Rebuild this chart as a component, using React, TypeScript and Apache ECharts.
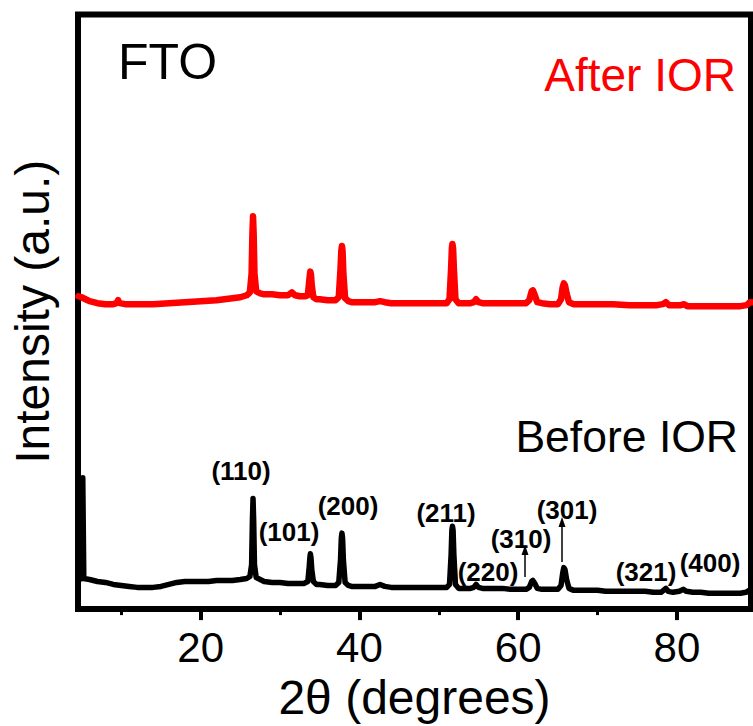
import React, { useEffect, useRef } from "react";
import * as echarts from "echarts";

// 2θ (degrees), intensity (arbitrary units, offset traces)
const beforeIOR: [number, number][] = [
  [4.6, 30], [5.05, 31], [5.15, 133], [5.28, 31], [6, 30], [7, 28], [8, 27], [9, 25], [10, 24], [11, 23], [12, 22], [13, 22],
  [14, 22], [15, 23], [16, 25], [17, 27], [18, 28], [19, 28], [20, 28], [21, 28], [22, 29], [23, 29],
  [24, 29], [25, 30], [25.8, 31], [26.2, 33], [26.42, 45], [26.52, 90], [26.6, 112], [26.68, 90],
  [26.78, 45], [27.0, 32], [27.5, 30], [28, 28], [29, 27], [30, 27], [31, 26], [32, 26], [33, 26],
  [33.5, 28], [33.65, 40], [33.76, 52], [33.82, 56], [33.9, 52], [34.0, 40], [34.2, 28], [34.6, 25],
  [35, 25], [36, 24], [37, 24], [37.4, 27], [37.62, 50], [37.72, 72], [37.8, 77], [37.88, 72],
  [37.98, 50], [38.2, 27], [38.6, 24], [39, 23], [40, 23], [41, 23], [42, 23], [42.6, 25], [43.2, 23],
  [44, 22], [45, 22], [46, 22], [47, 22], [48, 22], [49, 22], [50, 22], [51, 22], [51.35, 25],
  [51.55, 55], [51.65, 80], [51.72, 84], [51.8, 80], [51.9, 55], [52.1, 25], [52.5, 21], [53, 21],
  [54, 21], [54.4, 22], [54.7, 25], [55.0, 22], [55.5, 21], [56, 21], [57, 21], [58, 21], [59, 20],
  [60, 20], [61, 20], [61.4, 22], [61.7, 28], [61.85, 29], [62.1, 26], [62.4, 21], [63, 20], [64, 20],
  [65, 20], [65.4, 24], [65.6, 36], [65.75, 42], [65.9, 40], [66.1, 30], [66.4, 21], [67, 19], [68, 19],
  [69, 19], [70, 19], [71, 18], [72, 18], [73, 18], [74, 18], [75, 18], [76, 18], [77, 17], [78, 17],
  [78.3, 19], [78.6, 21], [78.9, 18], [79.5, 17], [80.3, 18], [80.8, 20], [81.2, 18], [82, 17], [83, 17],
  [84, 16], [85, 16], [86, 16], [87, 16], [88, 16], [88.7, 17], [89.1, 19], [89.4, 19],
];

const afterIOR: [number, number][] = [
  [4.6, 317], [5.0, 316], [5.5, 314], [6, 312], [7, 310], [8, 309], [9, 309], [9.4, 310], [9.6, 313], [9.8, 310],
  [10.5, 309], [12, 309], [14, 309], [16, 310], [18, 311], [20, 312], [22, 313], [24, 315], [25, 316],
  [25.8, 318], [26.2, 321], [26.42, 340], [26.52, 380], [26.6, 398], [26.68, 380], [26.78, 340],
  [27.0, 322], [27.5, 320], [28, 319], [29, 319], [30, 318], [31, 318], [31.5, 321], [31.9, 318],
  [32.5, 317], [33.2, 317], [33.5, 318], [33.65, 330], [33.76, 339], [33.82, 342], [33.9, 339],
  [34.0, 328], [34.2, 316], [34.6, 314], [35, 314], [36, 313], [37, 313], [37.4, 316], [37.62, 345],
  [37.72, 363], [37.8, 368], [37.88, 363], [37.98, 340], [38.2, 315], [38.6, 312], [39, 311], [40, 311],
  [41, 311], [42, 311], [42.6, 312], [43.2, 311], [44, 310], [46, 310], [48, 310], [50, 310], [51, 310],
  [51.35, 314], [51.55, 345], [51.65, 366], [51.72, 370], [51.8, 366], [51.9, 345], [52.1, 314],
  [52.5, 310], [53, 310], [54, 310], [54.4, 311], [54.7, 314], [55.0, 311], [55.5, 310], [57, 310],
  [59, 310], [61, 310], [61.4, 313], [61.7, 322], [61.85, 323], [62.1, 318], [62.4, 311], [63, 310],
  [64, 309], [65, 309], [65.4, 314], [65.6, 326], [65.75, 330], [65.9, 328], [66.1, 320], [66.4, 311],
  [67, 309], [68, 309], [70, 309], [72, 309], [74, 308], [76, 308], [77.5, 308], [78.2, 309],
  [78.6, 311], [79.0, 308], [80, 308], [80.5, 308], [80.9, 309], [81.3, 307], [82, 307], [84, 307],
  [86, 307], [88, 307], [88.8, 308], [89.2, 311], [89.4, 311],
];

const xTickValues = [20, 40, 60, 80];
const xMinorTickValues = [10, 30, 50, 70];
const peakLabelTexts = ["(110)", "(101)", "(200)", "(211)", "(220)", "(310)", "(301)", "(321)", "(400)"];

// layout (pixel positions of annotation centres)
const peakLabelPos: [number, number][] = [
  [241, 471], [289, 532], [348, 506], [446, 513], [488, 572], [521, 539], [567, 510], [646, 572], [710, 563],
];
const arrows: [number, number, number][] = [
  [525, 577, 545],
  [562, 562, 517],
];

const X_MIN = 4.55;
const X_MAX = 89.33;
const FONT = '"Liberation Sans", Arial, Helvetica, sans-serif';

export default function App() {
  const ref = useRef<HTMLDivElement>(null);
  useEffect(() => {
    if (!ref.current) return;
    const chart = echarts.init(ref.current, undefined, { renderer: "svg" });
    const graphics: any[] = [];
    graphics.push({
      type: "text", x: 118, y: 62,
      style: { text: "FTO", fill: "#000", fontSize: 50, fontFamily: FONT, align: "left", verticalAlign: "middle", textAlign: "left", textVerticalAlign: "middle" },
    });
    graphics.push({
      type: "text", x: 736, y: 75,
      style: { text: "After IOR", fill: "#ff0000", fontSize: 46, fontFamily: FONT, align: "right", verticalAlign: "middle", textAlign: "right", textVerticalAlign: "middle" },
    });
    graphics.push({
      type: "text", x: 738, y: 436,
      style: { text: "Before IOR", fill: "#000", fontSize: 44.5, fontFamily: FONT, align: "right", verticalAlign: "middle", textAlign: "right", textVerticalAlign: "middle" },
    });
    peakLabelTexts.forEach((t, i) => {
      graphics.push({
        type: "text", x: peakLabelPos[i][0], y: peakLabelPos[i][1],
        style: { text: t, fill: "#000", fontSize: 26, fontWeight: "bold", fontFamily: FONT, align: "center", verticalAlign: "middle", textAlign: "center", textVerticalAlign: "middle" },
      });
    });
    arrows.forEach(([x, y0, y1]) => {
      graphics.push({ type: "line", shape: { x1: x, y1: y0, x2: x, y2: y1 + 8 }, style: { stroke: "#000", lineWidth: 1.5 } });
      graphics.push({ type: "polygon", shape: { points: [[x, y1], [x - 3.5, y1 + 10], [x + 3.5, y1 + 10]] }, style: { fill: "#000" } });
    });

    chart.setOption({
      animation: false,
      grid: { left: 77.5, right: 2, top: 14.5, bottom: 109, show: true, borderColor: "#000", borderWidth: 6, backgroundColor: "transparent" },
      xAxis: [
        {
          type: "value", min: X_MIN, max: X_MAX, position: "bottom",
          axisLine: { show: false },
          axisTick: { show: true, length: 11, customValues: xTickValues, lineStyle: { color: "#000", width: 4 } },
          axisLabel: { customValues: xTickValues, fontSize: 42, color: "#000", margin: 17, fontFamily: FONT },
          splitLine: { show: false },
          name: "2θ (degrees)", nameLocation: "middle", nameGap: 55,
          nameTextStyle: { fontSize: 48, color: "#000", fontFamily: FONT },
        },
        {
          type: "value", min: X_MIN, max: X_MAX, position: "bottom",
          axisLine: { show: false },
          axisTick: { show: true, length: 6, customValues: xMinorTickValues, lineStyle: { color: "#000", width: 3 } },
          axisLabel: { show: false },
          splitLine: { show: false },
        },
      ],
      yAxis: {
        type: "value", min: 0, max: 602.5,
        axisLine: { show: false }, axisTick: { show: false }, axisLabel: { show: false }, splitLine: { show: false },
        name: "Intensity (a.u.)", nameLocation: "middle", nameGap: 22,
        nameTextStyle: { fontSize: 48, color: "#000", fontFamily: FONT },
      },
      series: [
        {
          type: "line", name: "Before IOR", data: beforeIOR, showSymbol: false, symbol: "none",
          lineStyle: { color: "#000", width: 5.5, join: "round", cap: "round" }, xAxisIndex: 0,
        },
        {
          type: "line", name: "After IOR", data: afterIOR, showSymbol: false, symbol: "none",
          lineStyle: { color: "#ff0000", width: 6.5, join: "round", cap: "round" }, xAxisIndex: 0,
        },
      ],
      graphic: graphics,
    });
    return () => chart.dispose();
  }, []);
  return <div ref={ref} style={{ width: 753, height: 726, position: "absolute", left: 0, top: 0 }} />;
}
